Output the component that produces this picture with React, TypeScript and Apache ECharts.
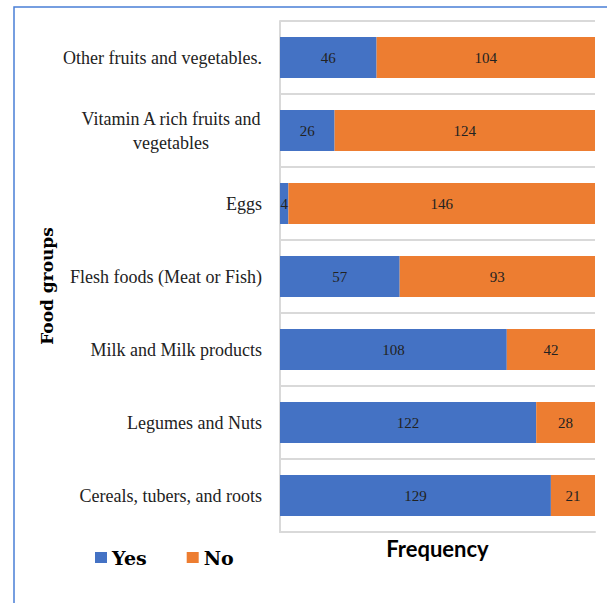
import React, { useEffect, useRef } from "react";
import * as echarts from "echarts";

const categories = [
  "Cereals, tubers, and roots",
  "Legumes and Nuts",
  "Milk and Milk products",
  "Flesh foods (Meat or Fish)",
  "Eggs",
  "Vitamin A rich fruits and vegetables",
  "Other fruits and vegetables.",
];
const yesValues = [129, 122, 108, 57, 4, 26, 46];
const noValues = [21, 28, 42, 93, 146, 124, 104];
const seriesNames = ["Yes", "No"];

const serif = "'Liberation Serif', 'DejaVu Serif', serif";
const boldSerif = "'DejaVu Serif', 'Liberation Serif', serif";
const sans = "Lato, 'Open Sans', sans-serif";

export default function App() {
  const ref = useRef<HTMLDivElement>(null);
  useEffect(() => {
    if (!ref.current) return;
    const chart = echarts.init(ref.current, null, { renderer: "svg" });
    const labelStyle = {
      show: true,
      position: "inside",
      color: "#222",
      fontFamily: serif,
      fontSize: 15,
    };
    chart.setOption({
      animation: false,
      backgroundColor: "#fff",
      graphic: [
        {
          type: "rect",
          shape: { x: 14, y: 7, width: 700, height: 700 },
          style: { fill: "none", stroke: "#4a7fd6", lineWidth: 1.5 },
          silent: true,
        },
        {
          type: "text",
          x: 47,
          y: 286,
          rotation: Math.PI / 2,
          style: {
            text: "Food groups",
            fontFamily: boldSerif,
            fontWeight: "bold",
            fontSize: 17,
            fill: "#000",
            align: "center",
            verticalAlign: "middle",
          },
        },
      ],
      grid: { left: 280, right: 12, top: 21, bottom: 71, containLabel: false },
      legend: {
        left: 95,
        top: 548,
        padding: 0,
        itemWidth: 12,
        itemHeight: 11,
        itemGap: 40,
        icon: "rect",
        textStyle: {
          fontFamily: boldSerif,
          fontWeight: "bold",
          fontSize: 19,
          color: "#000",
        },
        data: seriesNames,
      },
      xAxis: {
        type: "value",
        min: 0,
        max: 150,
        name: "Frequency",
        nameLocation: "middle",
        nameGap: 5,
        nameTextStyle: {
          fontFamily: sans,
          fontWeight: "bold",
          fontSize: 22,
          color: "#000",
          verticalAlign: "top",
        },
        axisLabel: { show: false },
        axisTick: { show: false },
        splitLine: { show: false },
        axisLine: { show: true, lineStyle: { color: "#d9d9d9", width: 2 } },
      },
      yAxis: {
        type: "category",
        data: categories,
        axisTick: { show: false },
        axisLine: { show: true, lineStyle: { color: "#d9d9d9", width: 2 } },
        splitLine: { show: true, lineStyle: { color: "#d9d9d9", width: 2 } },
        axisLabel: {
          margin: 18,
          fontFamily: serif,
          fontSize: 18,
          color: "#222",
          lineHeight: 24,
          formatter: (v: string) =>
            v === "Vitamin A rich fruits and vegetables"
              ? "{c|Vitamin A rich fruits and}\n{c|vegetables}"
              : v,
          rich: {
            c: {
              width: 182,
              align: "center",
              fontFamily: serif,
              fontSize: 18,
              color: "#222",
              lineHeight: 24,
            },
          },
        },
      },
      series: [
        {
          name: seriesNames[0],
          type: "bar",
          stack: "total",
          data: yesValues,
          barWidth: 41,
          itemStyle: { color: "#4472C4" },
          label: labelStyle,
        },
        {
          name: seriesNames[1],
          type: "bar",
          stack: "total",
          data: noValues,
          barWidth: 41,
          itemStyle: { color: "#ED7D31" },
          label: labelStyle,
        },
      ],
    });
    return () => chart.dispose();
  }, []);
  return <div ref={ref} style={{ width: 607, height: 603, position: "absolute", left: 0, top: 0 }} />;
}
